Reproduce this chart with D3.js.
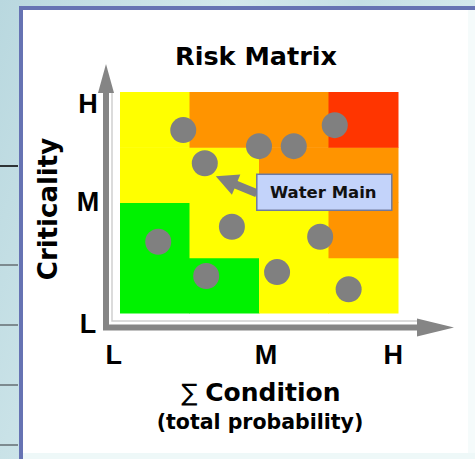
<!DOCTYPE html>
<html>
<head>
<meta charset="utf-8">
<script src="https://cdn.jsdelivr.net/npm/d3@7"></script>
<style>
  html, body { margin: 0; padding: 0; background: #ffffff; }
  svg { display: block; }
</style>
</head>
<body>
<svg id="chart" width="475" height="459"></svg>
<script>
// Risk matrix: condition (total probability) vs. criticality
const conditionLevels = ["L", "M", "H"];
const criticalityLevels = ["L", "M", "H"];

// Risk class of each grid cell, rows listed from low to high criticality
const riskRows = [
  ["low",    "low",    "medium", "medium"],
  ["low",    "medium", "medium", "high"],
  ["medium", "medium", "high",   "high"],
  ["medium", "high",   "high",   "severe"]
];
const riskClasses = ["low", "medium", "high", "severe"];
const riskColors  = ["#00f200", "#ffff00", "#ff9400", "#ff3500"];

// Assets placed on the 0–4 condition / criticality scale
const assetCondition   = [0.91, 1.22, 0.55, 1.24, 1.61, 2.00, 2.50, 3.09, 2.88, 2.26, 3.29];
const assetCriticality = [3.31, 2.71, 1.29, 0.67, 1.56, 3.02, 3.02, 3.40, 1.38, 0.74, 0.43];
const assetLabels      = ["", "Water Main", "", "", "", "", "", "", "", "", ""];

const svg = d3.select("#chart");
const W = 475, H = 459;

// ---- page background and framed panel ----
const defs = svg.append("defs");
const bg = defs.append("linearGradient").attr("id", "bg").attr("x1", 0).attr("y1", 0).attr("x2", 1).attr("y2", 0.3);
bg.append("stop").attr("offset", "0%").attr("stop-color", "#b9d8df");
bg.append("stop").attr("offset", "45%").attr("stop-color", "#d3e8ec");
bg.append("stop").attr("offset", "70%").attr("stop-color", "#c4dfe5");
bg.append("stop").attr("offset", "100%").attr("stop-color", "#d9ecef");
svg.append("rect").attr("width", W).attr("height", H).attr("fill", "url(#bg)");

// ruled lines in the left margin
const marginRules = [166, 265, 325, 385, 445];
svg.selectAll("line.rule").data(marginRules).join("line")
  .attr("class", "rule")
  .attr("x1", 0).attr("x2", 18)
  .attr("y1", d => d).attr("y2", d => d)
  .attr("stroke", (d, i) => i === 0 ? "#2e3436" : "#7d8a8f")
  .attr("stroke-width", 2);

// right and bottom strips are nearly white
svg.append("rect").attr("x", 468).attr("y", 6).attr("width", 7).attr("height", H - 6).attr("fill", "#f5fbfb");
svg.append("rect").attr("x", 19).attr("y", 453).attr("width", W - 19).attr("height", 6).attr("fill", "#eef8f8");

// white panel with blue top/left border
svg.append("rect").attr("x", 23).attr("y", 10).attr("width", 445).attr("height", 443).attr("fill", "#ffffff");
svg.append("rect").attr("x", 19).attr("y", 6).attr("width", 456).attr("height", 4).attr("fill", "#6673b3");
svg.append("rect").attr("x", 19).attr("y", 6).attr("width", 4).attr("height", H - 6).attr("fill", "#6673b3");

// ---- scales ----
const x = d3.scaleLinear().domain([0, 4]).range([120, 398]);
const y = d3.scaleLinear().domain([0, 4]).range([313, 92]);
const riskColor = d3.scaleOrdinal().domain(riskClasses).range(riskColors);

// ---- title ----
svg.append("text")
  .attr("x", 256).attr("y", 65)
  .attr("text-anchor", "middle")
  .attr("font-family", "DejaVu Sans, sans-serif")
  .attr("font-weight", "bold")
  .attr("font-size", 25.5)
  .attr("fill", "#000")
  .text("Risk Matrix");

// ---- matrix cells ----
const cells = [];
riskRows.forEach((row, r) => row.forEach((cls, c) => cells.push({ r, c, cls })));
svg.append("g").selectAll("rect").data(cells).join("rect")
  .attr("x", d => x(d.c))
  .attr("y", d => y(d.r + 1))
  .attr("width", d => x(d.c + 1) - x(d.c) + 0.5)
  .attr("height", d => y(d.r) - y(d.r + 1) + 0.5)
  .attr("fill", d => riskColor(d.cls));

// ---- axes (arrows) ----
const axisColor = "#858585";
const axisG = svg.append("g");
// light inner edge of the axis corner
axisG.append("path")
  .attr("d", `M${x(0) - 8},${y(4) - 2} V${y(0) + 8} H${x(4) + 20}`)
  .attr("fill", "none").attr("stroke", "#cfcfcf").attr("stroke-width", 1.5);
// y axis shaft + head
axisG.append("line")
  .attr("x1", 106).attr("x2", 106).attr("y1", 330).attr("y2", 90)
  .attr("stroke", axisColor).attr("stroke-width", 6);
axisG.append("path")
  .attr("d", "M106,64 L114,93 L98,93 Z").attr("fill", axisColor);
// x axis shaft + head
axisG.append("line")
  .attr("x1", 103).attr("x2", 420).attr("y1", 327.5).attr("y2", 327.5)
  .attr("stroke", axisColor).attr("stroke-width", 6);
axisG.append("path")
  .attr("d", "M454,327.5 L417,318.5 L417,336.5 Z").attr("fill", axisColor);

// ---- tick letters ----
const xTickPos = { L: -0.09, M: 2.1, H: 3.93 };
const yTickPos = { L: -0.18, M: 2.03, H: 3.8 };
svg.append("g").selectAll("text").data(conditionLevels).join("text")
  .attr("x", d => x(xTickPos[d]))
  .attr("y", 364)
  .attr("text-anchor", "middle")
  .attr("font-family", "Liberation Sans, Arial, sans-serif")
  .attr("font-weight", "bold")
  .attr("font-size", 27)
  .text(d => d);
svg.append("g").selectAll("text").data(criticalityLevels).join("text")
  .attr("x", 88)
  .attr("y", d => y(yTickPos[d]) + 10)
  .attr("text-anchor", "middle")
  .attr("font-family", "Liberation Sans, Arial, sans-serif")
  .attr("font-weight", "bold")
  .attr("font-size", 27)
  .text(d => d);

// ---- axis titles ----
svg.append("text")
  .attr("transform", "translate(57,209) rotate(-90)")
  .attr("text-anchor", "middle")
  .attr("font-family", "DejaVu Sans, sans-serif")
  .attr("font-weight", "bold")
  .attr("font-size", 26)
  .text("Criticality");

const xt = svg.append("text")
  .attr("x", 261).attr("y", 401)
  .attr("text-anchor", "middle")
  .attr("font-family", "DejaVu Sans, sans-serif")
  .attr("font-size", 25);
xt.append("tspan").attr("font-weight", "normal").attr("font-size", 24).text("∑ ");
xt.append("tspan").attr("font-weight", "bold").text("Condition");

svg.append("text")
  .attr("x", 260).attr("y", 429)
  .attr("text-anchor", "middle")
  .attr("font-family", "DejaVu Sans, sans-serif")
  .attr("font-weight", "bold")
  .attr("font-size", 20.5)
  .text("(total probability)");

// ---- asset markers ----
const assets = assetCondition.map((c, i) => ({ c, k: assetCriticality[i], label: assetLabels[i] }));
svg.append("g").selectAll("circle").data(assets).join("circle")
  .attr("cx", d => x(d.c))
  .attr("cy", d => y(d.k))
  .attr("r", 13)
  .attr("fill", "#808080");

// ---- callout for the labelled asset ----
assets.filter(d => d.label).forEach(d => {
  const px = x(d.c), py = y(d.k);
  const box = { x: px + 52, y: py + 11, w: 135, h: 36 };
  const g = svg.append("g");
  // arrow from box to the marker
  const tip = [px + 11, py + 13];
  const start = [box.x, box.y + box.h / 2 + 1];
  const dx = tip[0] - start[0], dy = tip[1] - start[1];
  const len = Math.hypot(dx, dy), ux = dx / len, uy = dy / len;
  const headLen = 22, headHalf = 11;
  const base = [tip[0] - ux * headLen, tip[1] - uy * headLen];
  g.append("line")
    .attr("x1", start[0]).attr("y1", start[1])
    .attr("x2", base[0] + ux * 2).attr("y2", base[1] + uy * 2)
    .attr("stroke", "#808080").attr("stroke-width", 8);
  g.append("path")
    .attr("d", `M${tip[0]},${tip[1]} L${base[0] - uy * headHalf},${base[1] + ux * headHalf} L${base[0] + uy * headHalf},${base[1] - ux * headHalf} Z`)
    .attr("fill", "#808080");
  g.append("rect")
    .attr("x", box.x).attr("y", box.y).attr("width", box.w).attr("height", box.h)
    .attr("fill", "#c3d3fa").attr("stroke", "#6f7a9e").attr("stroke-width", 1.5);
  g.append("text")
    .attr("x", box.x + box.w / 2 - 1).attr("y", box.y + box.h / 2 + 6)
    .attr("text-anchor", "middle")
    .attr("font-family", "DejaVu Sans, sans-serif")
    .attr("font-weight", "bold")
    .attr("font-size", 16.5)
    .attr("fill", "#111")
    .text(d.label);
});
</script>
</body>
</html>
